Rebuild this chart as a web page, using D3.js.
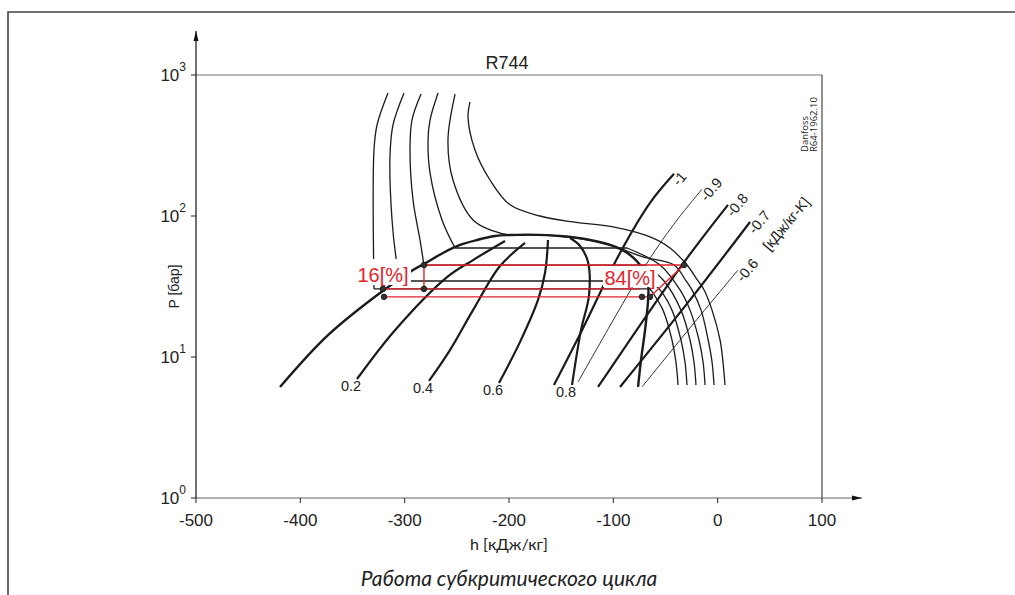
<!DOCTYPE html>
<html>
<head>
<meta charset="utf-8">
<script src="https://cdn.jsdelivr.net/npm/d3@7"></script>
<style>
body { margin: 0; background: #fff; }
svg { display: block; }
text { font-family: "Liberation Sans", Arial, sans-serif; fill: #222; }
</style>
</head>
<body>
<svg id="chart" width="1015" height="595"></svg>
<script>
// axis ticks
const hTicks = [-500, -400, -300, -200, -100, 0, 100]
const pTicks = [1, 10, 100, 1000]

// saturation dome [h kJ/kg, p bar]
const satLiquid = [[-419.5, 6.13], [-373.5, 14.3], [-319.8, 29.9], [-304.5, 35.7], [-292.0, 41.4],
    [-281.5, 45.7], [-263.3, 54.7], [-246.9, 62.3], [-230.7, 67.6], [-213.4, 72.1], [-199.0, 73.3], [-182.0, 73.8]]
const satVapor = [[-182.0, 73.8], [-151.1, 72.1], [-122.3, 67.6], [-100.3, 61.3], [-84.0, 52.9], [-72.5, 42.8],
    [-66.7, 32.4], [-66.7, 25.4], [-69.6, 15.5], [-73.5, 9.5], [-76.3, 6.13]]

// vapour quality lines
const qualityNames = ['0.2', '0.4', '0.6', '0.8']
const qualityLines = [
    [[-345.7, 6.98], [-309.3, 15.5], [-259.4, 36.9], [-234.5, 48.7], [-203.8, 66.5]],
    [[-276.7, 6.76], [-256.6, 11.2], [-234.5, 21.5], [-208.6, 44.2], [-184.6, 64.4]],
    [[-209.6, 6.54], [-189.4, 12.8], [-172.2, 25.4], [-165.5, 39.4], [-162.6, 67.6]],
    [[-139.6, 6.33], [-131.0, 15.5], [-123.3, 27.5], [-124.3, 47.2], [-131.9, 61.3], [-141.5, 69.8]]
]

// isotherms: liquid part, saturation pressure, vapour part
const isoLiquid = [
    [[-316.0, 745], [-326.5, 442], [-329.4, 294], [-329.4, 30.4]],
    [[-300.6, 745], [-311.2, 442], [-314.1, 262], [-312.1, 93.7], [-308.3, 50.4], [-304.5, 34.6]],
    [[-284.3, 733], [-293.0, 479], [-294.9, 294], [-292.0, 130], [-285.3, 67.6], [-281.5, 44.9]],
    [[-268.0, 745], [-275.7, 479], [-277.6, 346], [-275.7, 202], [-264.2, 93.7], [-251.7, 59.3]]
]
const isoPressure = [30.4, 34.6, 44.9, 59.3]
const isoVapor = [
    [[-64.8, 30.4], [-52.4, 21.5], [-43.8, 13.2], [-40.0, 9.22], [-38.0, 6.33]],
    [[-64.8, 34.6], [-55.3, 29.9], [-43.8, 21.5], [-35.2, 13.2], [-31.3, 9.22], [-29.4, 6.33]],
    [[-69.6, 44.9], [-51.4, 34.6], [-35.2, 21.5], [-26.5, 13.2], [-22.7, 9.22], [-20.8, 6.33]],
    [[-86.9, 59.3], [-55.3, 44.9], [-36.1, 29.9], [-26.5, 21.5], [-17.9, 13.2], [-14.0, 9.22], [-12.1, 6.33]]
]
const isoCritical = [[-251.7, 733], [-258.5, 346], [-253.7, 180], [-234.5, 93.7], [-215.3, 78.3], [-199.0, 73.3],
    [-167.4, 73.3], [-134.8, 69.8], [-103.2, 62.3], [-71.5, 51.2], [-41.8, 44.9], [-30.3, 34.6], [-24.6, 29.9],
    [-15.9, 21.5], [-9.1, 13.2], [-5.4, 9.22], [-3.5, 6.33]]
const isoSuper = [[-237.4, 644], [-239.3, 504], [-232.6, 294], [-218.2, 180], [-199.0, 120], [-170.3, 100],
    [-138.6, 90.7], [-100.3, 83.6], [-64.8, 71.0], [-45.7, 59.3], [-29.4, 44.9], [-18.8, 34.6], [-13.0, 29.9],
    [-5.4, 21.5], [2.3, 13.2], [5.1, 9.22], [7.0, 6.33]]

// isentropes [kJ/kg-K]
const entropyNames = ['-1', '-0.9', '-0.8', '-0.7', '-0.6    [кДж/кг-K]']
const entropyThick = [true, false, true, true, false]
const entropyLines = [
    [[-156.9, 6.33], [-130.0, 15.5], [-93.6, 54.7], [-64.8, 124], [-41.8, 199]],
    [[-133.8, 6.65], [-67.7, 46.4], [-38.9, 93.7], [-15.0, 155]],
    [[-114.7, 6.13], [-34.2, 44.9], [9.9, 120]],
    [[-93.6, 6.13], [-26.5, 25.4], [31.0, 90.7]],
    [[-72.5, 6.13], [-26.5, 16.1], [19.5, 41.4]]
]

// subcritical cycle
const cycleLines = [
    [[-281.5, 44.9], [-32.2, 44.9]],
    [[-281.5, 44.9], [-281.5, 30.4]],
    [[-320.8, 30.4], [-74.4, 30.4]],
    [[-319.8, 26.7], [-64.8, 26.7]],
    [[-64.8, 26.7], [-32.2, 44.9]]
]
const cyclePoints = [[-281.5, 44.9], [-281.5, 30.4], [-320.8, 30.4], [-319.8, 26.7], [-72.5, 26.7], [-64.8, 26.7], [-32.2, 44.9]]

let chart = {}
chart.svg = d3.select('#chart')
chart.margin = {top: 75, right: 193, bottom: 97, left: 196}
chart.width = 1015 - chart.margin.left - chart.margin.right
chart.height = 595 - chart.margin.top - chart.margin.bottom

const x = d3.scaleLinear().domain([-500, 100]).range([chart.margin.left, chart.margin.left + chart.width])
const y = d3.scaleLog().domain([1, 1000]).range([chart.margin.top + chart.height, chart.margin.top])

const line = d3.line().x(d => x(d[0])).y(d => y(d[1])).curve(d3.curveCatmullRom.alpha(0.5))
const straight = d3.line().x(d => x(d[0])).y(d => y(d[1]))

const ink = '#1b1b1b'
const red = '#e5222b'

// outer frame
chart.svg.append('path')
    .attr('d', 'M8,595V12H1015')
    .attr('fill', 'none').attr('stroke', '#444').attr('stroke-width', 1.6)

const g = chart.svg.append('g')

// plot box (top and right)
g.append('line').attr('x1', x(-500)).attr('x2', x(100)).attr('y1', y(1000)).attr('y2', y(1000))
    .attr('stroke', '#777').attr('stroke-width', 1.2)
g.append('line').attr('x1', x(100)).attr('x2', x(100)).attr('y1', y(1000)).attr('y2', y(1))
    .attr('stroke', '#222').attr('stroke-width', 1)

// arrows
chart.svg.append('defs').append('marker')
    .attr('id', 'arrow').attr('viewBox', '0 0 10 10').attr('refX', 10).attr('refY', 5)
    .attr('markerWidth', 10).attr('markerHeight', 10).attr('markerUnits', 'userSpaceOnUse')
    .attr('orient', 'auto')
    .append('path').attr('d', 'M0,2.5L10,5L0,7.5Z').attr('fill', '#111')

g.append('line').attr('x1', x(-500)).attr('x2', 862).attr('y1', y(1)).attr('y2', y(1))
    .attr('stroke', '#666').attr('stroke-width', 1.2).attr('marker-end', 'url(#arrow)')
g.append('line').attr('x1', x(-500)).attr('x2', x(-500)).attr('y1', y(1)).attr('y2', 31)
    .attr('stroke', '#111').attr('stroke-width', 1.2).attr('marker-end', 'url(#arrow)')

// x ticks
hTicks.forEach(t => {
    g.append('line').attr('x1', x(t)).attr('x2', x(t)).attr('y1', y(1)).attr('y2', y(1) + 5)
        .attr('stroke', '#222')
    g.append('text').attr('x', x(t)).attr('y', y(1) + 28).attr('text-anchor', 'middle')
        .style('font-size', '17px').text(t)
})

// y ticks
pTicks.forEach(t => {
    g.append('line').attr('x1', x(-500) - 5).attr('x2', x(-500)).attr('y1', y(t)).attr('y2', y(t))
        .attr('stroke', '#222')
    const lab = g.append('text').attr('x', x(-500) - 10).attr('y', y(t) + 6).attr('text-anchor', 'end')
        .style('font-size', '17px')
    lab.append('tspan').text('10')
    lab.append('tspan').attr('dy', -10).style('font-size', '12px').text(Math.round(Math.log10(t)))
})

g.append('text').attr('transform', `translate(179,${y(31.6)}) rotate(-90)`).attr('text-anchor', 'middle')
    .style('font-size', '14px').text('P [бар]')
g.append('text').attr('x', x(-200)).attr('y', 550).attr('text-anchor', 'middle')
    .style('font-size', '16px').style('font-family', 'Lato, sans-serif').text('h [кДж/кг]')
g.append('text').attr('x', x(-200) - 2).attr('y', 69).attr('text-anchor', 'middle')
    .style('font-size', '18px').text('R744')
g.append('text').attr('x', x(-200)).attr('y', 586).attr('text-anchor', 'middle')
    .style('font-size', '21px').style('font-style', 'italic').style('font-family', 'Lato, "Open Sans", sans-serif')
    .text('Работа субкритического цикла')

const stamp = g.append('text').attr('transform', 'translate(808,152) rotate(-90)')
    .style('font-size', '9.5px').style('font-family', '"Open Sans", sans-serif')
stamp.append('tspan').attr('x', 0).attr('dy', 0).text('Danfoss')
stamp.append('tspan').attr('x', 0).attr('dy', 8.5).text('R64-1962.10')

// curves
const curves = g.append('g').attr('fill', 'none').attr('stroke', ink)

isoLiquid.forEach((d, i) => {
    curves.append('path').attr('d', line(d)).attr('stroke-width', 1.3)
    curves.append('path').attr('d', straight([[d[d.length - 1][0], isoPressure[i]], [isoVapor[i][0][0], isoPressure[i]]]))
        .attr('stroke-width', 1.3)
    curves.append('path').attr('d', line(isoVapor[i])).attr('stroke-width', 1.3)
})
curves.append('path').attr('d', line(isoCritical)).attr('stroke-width', 1.3)
curves.append('path').attr('d', line(isoSuper)).attr('stroke-width', 1.3)

qualityLines.forEach(d => curves.append('path').attr('d', line(d)).attr('stroke-width', 2.2))
entropyLines.forEach((d, i) => curves.append('path').attr('d', line(d)).attr('stroke-width', entropyThick[i] ? 2.2 : 0.9))

curves.append('path').attr('d', line(satLiquid)).attr('stroke-width', 2.4)
curves.append('path').attr('d', line(satVapor)).attr('stroke-width', 2.4)

// quality labels
qualityLines.forEach((d, i) => {
    g.append('text').attr('x', x(d[0][0]) - 6).attr('y', y(d[0][1]) + 12).attr('text-anchor', 'middle')
        .style('font-size', '14.5px').text(qualityNames[i])
})

// entropy labels, continuing each line beyond its end
entropyLines.forEach((d, i) => {
    const p = d[d.length - 1]
    g.append('text').attr('transform', `translate(${x(p[0]) + 5},${y(p[1]) + 13}) rotate(-50)`)
        .style('font-size', '14.5px').style('white-space', 'pre').text(entropyNames[i])
})

// cycle
const cyc = g.append('g')
cyc.append('rect').attr('x', 356).attr('y', 259).attr('width', 55).attr('height', 26).attr('fill', '#fff')
cyc.append('rect').attr('x', 603).attr('y', 266).attr('width', 55).attr('height', 21).attr('fill', '#fff')
cycleLines.forEach(d => cyc.append('path').attr('d', straight(d)).attr('stroke', red).attr('stroke-width', 1.4).attr('fill', 'none'))
cyc.selectAll('circle').data(cyclePoints).join('circle')
    .attr('cx', d => x(d[0])).attr('cy', d => y(d[1])).attr('r', 2.8)
    .attr('fill', '#333').attr('stroke', '#111').attr('stroke-width', 0.8)
cyc.append('text').attr('x', 383).attr('y', 282).attr('text-anchor', 'middle')
    .style('font-size', '20px').style('fill', red).text('16[%]')
cyc.append('text').attr('x', 630).attr('y', 285).attr('text-anchor', 'middle')
    .style('font-size', '20px').style('fill', red).text('84[%]')
</script>
</body>
</html>
